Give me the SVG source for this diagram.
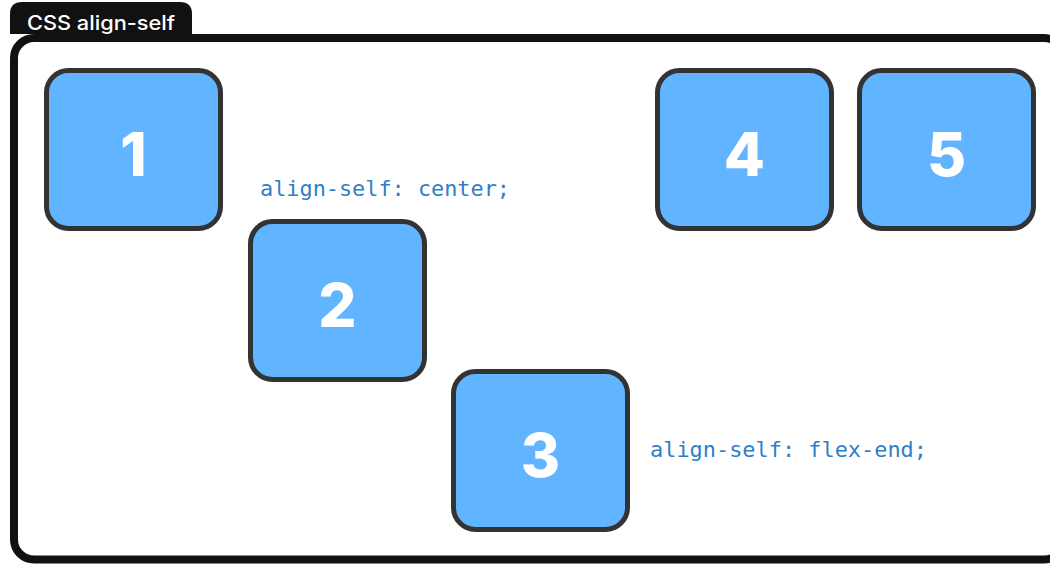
<svg xmlns="http://www.w3.org/2000/svg" width="1050" height="565" viewBox="0 0 1050 565">
  <style>
    .box { fill: #61b4ff; stroke: #333333; stroke-width: 5; }
    .num { fill: #ffffff; font-family: Inter, "Liberation Sans", Arial, sans-serif; font-weight: 800; font-size: 60px; text-anchor: middle; }
    .code { fill: #2f7fc7; font-family: "DejaVu Sans Mono", "Liberation Mono", monospace; font-size: 21px; }
    .tabtext { fill: #ffffff; font-family: Inter, "Liberation Sans", Arial, sans-serif; font-weight: 500; font-size: 20px; }
  </style>
  <rect width="1050" height="565" fill="#ffffff"/>
  <g id="container">
    <path d="M10 14 Q10 2 22 2 L180 2 Q192 2 192 14 L192 34 L10 34 Z" fill="#111111"/>
    <rect x="14" y="38" width="1050" height="521.5" rx="20" ry="20" fill="none" stroke="#111111" stroke-width="8"/>
    <text class="tabtext" x="27" y="30" textLength="148" lengthAdjust="spacingAndGlyphs">CSS align-self</text>
  </g>
  <g id="item1">
    <rect class="box" x="46.5" y="70.5" width="174" height="158" rx="22"/>
    <text class="num" x="133.5" y="176">1</text>
  </g>
  <g id="item2">
    <rect class="box" x="250.5" y="221.5" width="174" height="158" rx="22"/>
    <text class="num" x="337.5" y="327">2</text>
  </g>
  <g id="item3">
    <rect class="box" x="453.5" y="371.5" width="174" height="158" rx="22"/>
    <text class="num" x="540.5" y="477">3</text>
  </g>
  <g id="item4">
    <rect class="box" x="657.5" y="70.5" width="174" height="158" rx="22"/>
    <text class="num" x="744.5" y="176">4</text>
  </g>
  <g id="item5">
    <rect class="box" x="859.5" y="70.5" width="174" height="158" rx="22"/>
    <text class="num" x="946.5" y="176">5</text>
  </g>
  <g id="labels">
    <text class="code" x="260" y="196" textLength="250" lengthAdjust="spacingAndGlyphs">align-self: center;</text>
    <text class="code" x="650" y="457" textLength="277" lengthAdjust="spacingAndGlyphs">align-self: flex-end;</text>
  </g>
  <g id="connectors"/>
</svg>
